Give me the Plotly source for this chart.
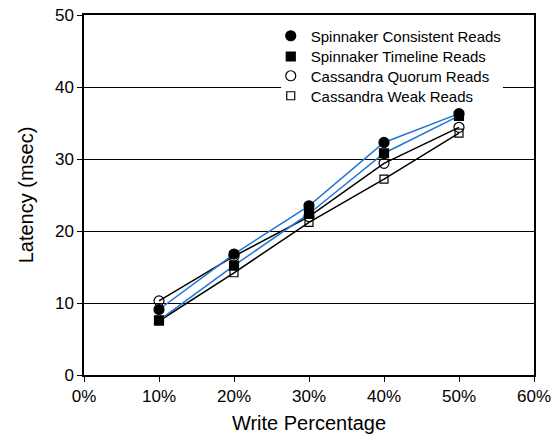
import plotly.graph_objects as go

write_pct = [10, 20, 30, 40, 50]
spinnaker_consistent = [9.1, 16.8, 23.5, 32.3, 36.3]
spinnaker_timeline = [7.6, 15.2, 22.4, 30.8, 36.0]
cassandra_quorum = [10.3, 16.5, 22.0, 29.4, 34.4]
cassandra_weak = [7.5, 14.2, 21.2, 27.2, 33.6]

x_ticks = [0, 10, 20, 30, 40, 50, 60]
x_tick_labels = ["0%", "10%", "20%", "30%", "40%", "50%", "60%"]
y_ticks = [0, 10, 20, 30, 40, 50]

BLUE = "#2075d8"
FONT = "Liberation Sans, Arial, Helvetica, sans-serif"

series = [
    # name, values, line color, symbol, size, legend id
    ("Cassandra Weak Reads", cassandra_weak, "black", "square-open", 8, "legend4"),
    ("Cassandra Quorum Reads", cassandra_quorum, "black", "circle-open", 10, "legend3"),
    ("Spinnaker Consistent Reads", spinnaker_consistent, BLUE, "circle", 10, "legend"),
    ("Spinnaker Timeline Reads", spinnaker_timeline, BLUE, "square", 9, "legend2"),
]

fig = go.Figure()
for name, vals, col, sym, size, leg in series:
    fig.add_trace(go.Scatter(
        x=write_pct, y=vals, mode="lines+markers", name=name,
        line=dict(color=col, width=1.5),
        marker=dict(symbol=sym, size=size, color="black",
                    line=dict(color="black", width=1.2)),
        showlegend=False,
    ))
for name, vals, col, sym, size, leg in series:
    fig.add_trace(go.Scatter(
        x=[None], y=[None], mode="markers", name=name,
        marker=dict(symbol=sym, size=size, color="black",
                    line=dict(color="black", width=1.2)),
        legend=leg, showlegend=True,
    ))

def leg_cfg(ypos):
    return dict(
        x=0.415, y=ypos, xanchor="left", yanchor="middle",
        bgcolor="rgba(0,0,0,0)", borderwidth=0,
        font=dict(family=FONT, size=15, color="black"),
        itemwidth=30, tracegroupgap=0,
    )

fig.update_layout(
    width=559, height=435,
    margin=dict(l=84, r=25, t=15, b=60, autoexpand=False),
    paper_bgcolor="white", plot_bgcolor="white",
    font=dict(family=FONT, color="black"),
    legend=leg_cfg(0.9416),
    legend2=leg_cfg(0.884),
    legend3=leg_cfg(0.8305),
    legend4=leg_cfg(0.775),
    xaxis=dict(
        range=[0, 60], tickvals=x_ticks, ticktext=x_tick_labels,
        showgrid=False, zeroline=False, automargin=False,
        showline=True, linecolor="black", linewidth=1.5, mirror=True,
        ticks="outside", ticklen=5, tickcolor="black",
        tickfont=dict(size=17),
        title=dict(text="Write Percentage", font=dict(size=20), standoff=11),
    ),
    yaxis=dict(
        range=[0, 50], tickvals=y_ticks,
        showgrid=True, gridcolor="black", gridwidth=1, zeroline=False,
        automargin=False,
        showline=True, linecolor="black", linewidth=1.5, mirror=True,
        ticks="outside", ticklen=5, tickcolor="black",
        tickfont=dict(size=17),
        title=dict(text="Latency (msec)", font=dict(size=20), standoff=16),
    ),
    shapes=[dict(
        type="rect", xref="paper", yref="y",
        x0=0.438, x1=0.931, y0=39.6, y1=40.4,
        fillcolor="white", line=dict(width=0), layer="above",
    )],
)

fig.write_html("out.html", config={"displayModeBar": False},
               post_script="document.body.style.margin='0px';")
